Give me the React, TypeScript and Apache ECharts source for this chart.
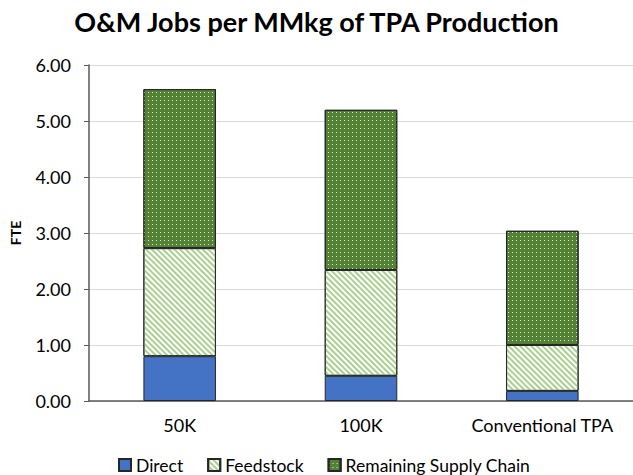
import React, { useEffect, useRef } from "react";
import * as echarts from "echarts";

const categories = ["50K", "100K", "Conventional TPA"];
const direct = [0.8, 0.45, 0.18];
const feedstock = [1.93, 1.89, 0.82];
const remaining = [2.84, 2.86, 2.04];
const yTicks = [0, 1, 2, 3, 4, 5, 6];

const FONT = "Lato, 'Open Sans', sans-serif";

export default function App() {
  const ref = useRef<HTMLDivElement>(null);
  useEffect(() => {
    document.body.style.margin = "0";
    if (!ref.current) return;
    const chart = echarts.init(ref.current, undefined, { renderer: "svg" });
    const border = { borderColor: "#262626", borderWidth: 1 };
    chart.setOption({
      animation: false,
      title: {
        text: "O&M Jobs per MMkg of TPA Production",
        left: "center",
        top: 3,
        textStyle: { fontFamily: FONT, fontSize: 27, fontWeight: "bold", color: "#000" },
      },
      legend: {
        top: 456,
        left: 118,
        padding: 0,
        icon: "rect",
        itemWidth: 12,
        itemHeight: 12,
        itemGap: 24,
        textStyle: { fontFamily: FONT, fontSize: 17.5, color: "#000" },
        data: ["Direct", "Feedstock", "Remaining Supply Chain"],
      },
      grid: { left: 86, right: 0, top: 65, bottom: 74, containLabel: false },
      xAxis: {
        type: "category",
        data: categories,
        axisLine: { lineStyle: { color: "#595959", width: 1.5 } },
        axisTick: { show: false },
        axisLabel: { fontFamily: FONT, fontSize: 18, color: "#000", margin: 15, interval: 0 },
      },
      yAxis: {
        type: "value",
        min: yTicks[0],
        max: yTicks[yTicks.length - 1],
        interval: 1,
        name: "FTE",
        nameLocation: "middle",
        nameGap: 67,
        nameTextStyle: { fontFamily: FONT, fontSize: 14, fontWeight: "bold", color: "#000" },
        axisLine: { show: true, lineStyle: { color: "#595959", width: 1.5 } },
        axisTick: { show: true, length: 5, lineStyle: { color: "#595959" } },
        axisLabel: {
          fontFamily: FONT,
          fontSize: 18,
          color: "#000",
          margin: 18,
          formatter: (v: number) => v.toFixed(2),
        },
        splitLine: { lineStyle: { color: "#d9d9d9", width: 1 } },
      },
      series: [
        {
          name: "Direct",
          type: "bar",
          stack: "s",
          barWidth: "40%",
          data: direct,
          itemStyle: { color: "#4472c4", ...border },
        },
        {
          name: "Feedstock",
          type: "bar",
          stack: "s",
          data: feedstock,
          itemStyle: {
            color: "#ffffff",
            ...border,
            decal: {
              symbol: "rect",
              symbolSize: 1,
              color: "#a9d18e",
              dashArrayX: [1, 0],
              dashArrayY: [2, 2],
              rotation: Math.PI / 4,
            },
          },
        },
        {
          name: "Remaining Supply Chain",
          type: "bar",
          stack: "s",
          data: remaining,
          itemStyle: {
            color: "#548235",
            ...border,
            decal: {
              symbol: "rect",
              symbolSize: 1,
              color: "rgba(255,255,255,0.8)",
              dashArrayX: [1, 3],
              dashArrayY: [1, 3],
              rotation: 0,
            },
          },
        },
      ],
    });
    return () => chart.dispose();
  }, []);
  return <div ref={ref} style={{ width: 633, height: 475 }} />;
}
